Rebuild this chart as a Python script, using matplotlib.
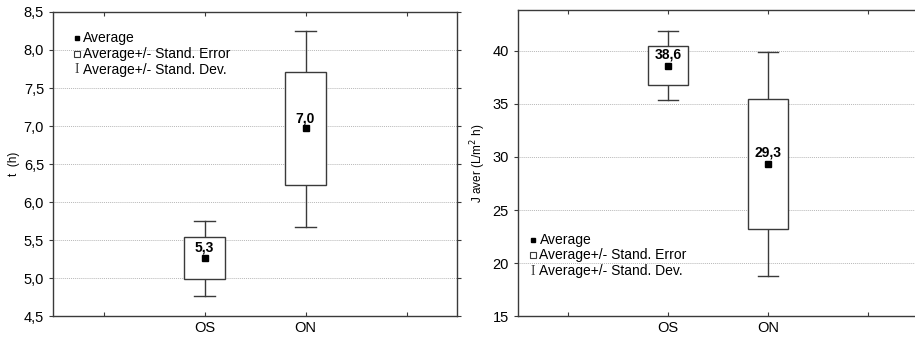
import matplotlib
matplotlib.use('Agg')
import matplotlib.pyplot as plt
from matplotlib.ticker import FuncFormatter, FixedLocator
import numpy as np

plt.rcParams['font.family'] = ['Liberation Sans', 'DejaVu Sans']

groups = ['OS', 'ON']

# left panel: t (h)
t_mean = [5.27, 6.97]
t_se_low = [4.99, 6.23]
t_se_high = [5.55, 7.71]
t_sd_low = [4.77, 5.67]
t_sd_high = [5.76, 8.25]
t_labels = ['5,3', '7,0']

# right panel: J aver
j_mean = [38.62, 29.37]
j_se_low = [36.76, 23.24]
j_se_high = [40.50, 35.47]
j_sd_low = [35.38, 18.77]
j_sd_high = [41.86, 39.94]
j_labels = ['38,6', '29,3']

line_col = '#3a3a3a'


def comma(fmt):
    return FuncFormatter(lambda v, p: (fmt % v).replace('.', ','))


def box_plot(ax, mean, se_lo, se_hi, sd_lo, sd_hi, labels, off):
    xs = np.arange(1, len(mean) + 1)
    for x, m, a, b, c, d, lab in zip(xs, mean, se_lo, se_hi, sd_lo, sd_hi, labels):
        ax.add_patch(plt.Rectangle((x - 0.2, a), 0.4, b - a, facecolor='white',
                                   edgecolor=line_col, lw=1.0, zorder=3))
        ax.plot([x, x], [b, d], color=line_col, lw=1.0, zorder=2)
        ax.plot([x, x], [c, a], color=line_col, lw=1.0, zorder=2)
        ax.plot([x - 0.1, x + 0.1], [d, d], color=line_col, lw=1.0, zorder=2)
        ax.plot([x - 0.1, x + 0.1], [c, c], color=line_col, lw=1.0, zorder=2)
        ax.plot(x, m, marker='s', ms=4.5, color='black', ls='none', zorder=4)
        ax.text(x, m + off, lab, ha='center', va='bottom', fontsize=10,
                fontweight='bold', zorder=5)
    ax.set_xlim(-0.5, 3.5)
    ax.xaxis.set_major_locator(FixedLocator([0, 1, 2, 3]))
    ax.set_xticklabels(['', groups[0], groups[1], ''])
    ax.grid(axis='y', color='#b8b8b8', ls=(0, (1, 1)), lw=0.7, zorder=0)
    ax.tick_params(axis='x', direction='in', top=True, length=3, color=line_col,
                   labelsize=10.5)
    ax.tick_params(axis='y', direction='out', right=True, length=3, color=line_col,
                   labelsize=10.5)
    for s in ax.spines.values():
        s.set_color(line_col)
        s.set_linewidth(1.0)


def legend(ax, x_mark, x_text, ys):
    tr = ax.transAxes
    ax.plot(x_mark, ys[0], marker='s', ms=3.5, color='black', transform=tr,
            clip_on=False, zorder=6)
    ax.plot(x_mark, ys[1], marker='s', ms=5, mfc='white', mec=line_col, mew=0.8,
            transform=tr, clip_on=False, zorder=6)
    ax.text(x_mark, ys[2], 'I', transform=tr, fontsize=10, ha='center',
            va='center', color=line_col, family='Liberation Serif', zorder=6)
    for y, s in zip(ys, ['Average', 'Average+/- Stand. Error',
                         'Average+/- Stand. Dev.']):
        ax.text(x_text, y, s, transform=tr, fontsize=10, va='center', ha='left',
                zorder=6)


fig = plt.figure(figsize=(9.15, 3.41), dpi=100)

ax1 = fig.add_axes([0.058, 0.072, 0.4415, 0.893])
box_plot(ax1, t_mean, t_se_low, t_se_high, t_sd_low, t_sd_high, t_labels, 0.04)
ax1.set_ylim(4.5, 8.5)
ax1.set_yticks(np.arange(4.5, 8.51, 0.5))
ax1.yaxis.set_major_formatter(comma('%.1f'))
ax1.set_ylabel('t  (h)', fontsize=8.5, labelpad=3)
legend(ax1, 0.059, 0.075, [0.915, 0.862, 0.81])

ax2 = fig.add_axes([0.566, 0.073, 0.437, 0.899])
box_plot(ax2, j_mean, j_se_low, j_se_high, j_sd_low, j_sd_high, j_labels, 0.35)
ax2.set_ylim(15, 43.9)
ax2.set_yticks([15, 20, 25, 30, 35, 40])
ax2.yaxis.set_major_formatter(comma('%d'))
ax2.set_ylabel('J aver (L/m$^2$ h)', fontsize=8.5, labelpad=3)
legend(ax2, 0.038, 0.054, [0.248, 0.199, 0.147])

fig.savefig('out.png', dpi=100)
